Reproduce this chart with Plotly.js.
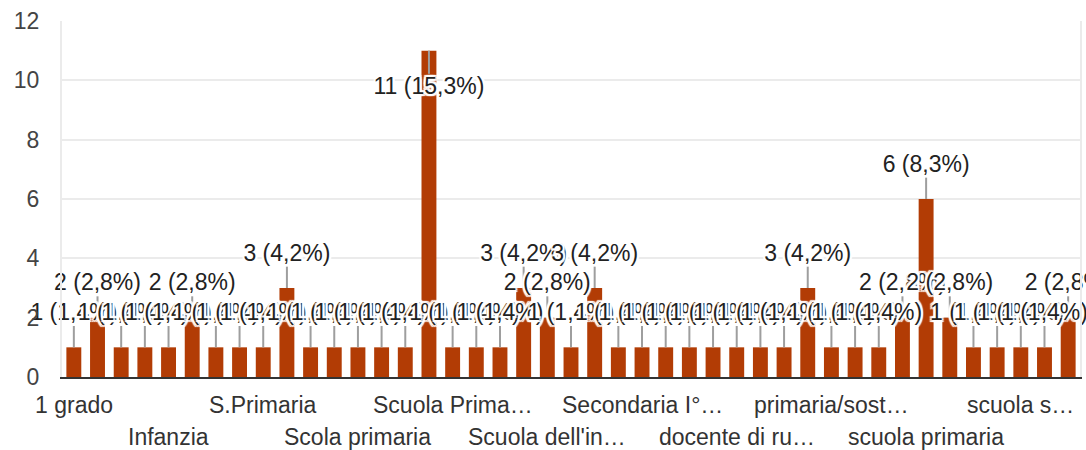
<!DOCTYPE html>
<html>
<head>
<meta charset="utf-8">
<script src="https://cdn.plot.ly/plotly-3.0.1.min.js"></script>
<style>
  html, body { margin: 0; padding: 0; background: #fff; }
  #chart { width: 1086px; height: 450px; }
</style>
</head>
<body>
<div id="chart"></div>
<script>
// ---- data ----
const categories = [
  "1 grado", "1° grado", "Docente", "I grado", "Infanzia",
  "Insegnante", "Primaria", "Primaria statale", "S.Primaria", "SECONDARIA",
  "Scuola", "Scola infanzia", "Scola primaria", "Scuola Infanzia", "Scuola Media",
  "Scuola Primaria", "Scuola Primaria statale", "Scuola Secondaria", "Scuola d'infanzia", "Scuola dell'infanzia",
  "Scuola dell'infanzia statale", "Scuola media", "Secondaria", "Secondaria I grado", "Secondaria I° grado",
  "Secondaria di primo grado", "Sostegno", "docente", "docente di ruolo", "docente di ruolo scuola primaria",
  "infanzia", "primaria", "primaria/sostegno", "primaria/sostegno infanzia", "scuola",
  "scuola infanzia", "scuola primaria", "scuola primaria statale", "scuola secondaria", "scuola secondaria di I grado",
  "scuola secondaria di primo grado", "secondaria", "sostegno"
];
const counts = [
  1, 2, 1, 1, 1,
  2, 1, 1, 1, 3,
  1, 1, 1, 1, 1,
  11, 1, 1, 1, 3,
  2, 1, 3, 1, 1,
  1, 1, 1, 1, 1,
  1, 3, 1, 1, 1,
  2, 6, 2, 1, 1,
  1, 1, 2
];
const tickLabels = [
  "1 grado", "Infanzia", "S.Primaria", "Scola primaria", "Scuola Prima…",
  "Scuola dell'in…", "Secondaria I°…", "docente di ru…", "primaria/sost…", "scuola primaria",
  "scuola s…"
];
const yTicks = [0, 2, 4, 6, 8, 10, 12];

// ---- derived ----
const total = counts.reduce((a, b) => a + b, 0);
const labelText = counts.map(v => v + " (" + (v / total * 100).toFixed(1).replace(".", ",") + "%)");
const yMax = 12;
const LABEL_OFF = 1.11;   // label offset above bar top (axis units)
const LEAD = 0.72;        // leader line length
const inside = counts.map(v => v + LABEL_OFF + 0.35 > yMax);
const labelY = counts.map((v, i) => inside[i] ? v - 1.28 : v + LABEL_OFF);

const leadX = [], leadY = [];
categories.forEach((c, i) => {
  const v = counts[i];
  leadX.push(c, c, null);
  leadY.push(v, inside[i] ? v - 0.78 : v + LEAD, null);
});

const FONT = "Liberation Sans, Arial, sans-serif";
const halo = "2px 0 1px #fff, -2px 0 1px #fff, 0 2px 1px #fff, 0 -2px 1px #fff, 2px 2px 1px #fff, -2px -2px 1px #fff, 2px -2px 1px #fff, -2px 2px 1px #fff";
const FS = 23;

const traces = [
  {
    type: "bar",
    x: categories,
    y: counts,
    marker: { color: "#b23c05" },
    hoverinfo: "none"
  },
  {
    type: "scatter",
    mode: "lines",
    x: leadX,
    y: leadY,
    line: { color: "#9e9e9e", width: 2 },
    hoverinfo: "none",
    connectgaps: false
  },
  {
    type: "scatter",
    mode: "text",
    x: categories,
    y: labelY,
    text: labelText,
    textposition: "middle center",
    textfont: { family: FONT, size: FS, color: "#222", shadow: halo },
    cliponaxis: false,
    hoverinfo: "none"
  }
];

const tickPositions = categories.filter((c, i) => i % 4 === 0);
const annotations = tickLabels.map((t, k) => ({
  text: t,
  x: tickPositions[k],
  xref: "x",
  y: 0,
  yref: "paper",
  yanchor: "middle",
  yshift: k % 2 === 0 ? -28 : -60,
  showarrow: false,
  font: { family: FONT, size: FS, color: "#333" }
}));

const layout = {
  width: 1086,
  height: 450,
  margin: { l: 62, r: 6, t: 21, b: 73 },
  paper_bgcolor: "#fff",
  plot_bgcolor: "#fff",
  showlegend: false,
  bargap: 0.37,
  font: { family: FONT, size: FS, color: "#444" },
  xaxis: {
    type: "category",
    range: [-0.5, categories.length - 0.5],
    showticklabels: false,
    ticks: "",
    showgrid: false,
    showline: true,
    linecolor: "#333",
    linewidth: 2,
    zeroline: false,
    fixedrange: true
  },
  yaxis: {
    range: [0, yMax],
    tickvals: yTicks,
    ticktext: yTicks.map(String),
    tickfont: { family: FONT, size: FS, color: "#444" },
    ticks: "",
    ticklabelstandoff: 16,
    showgrid: true,
    gridcolor: "#ebebeb",
    gridwidth: 2,
    zeroline: false,
    showline: true,
    mirror: true,
    linecolor: "#ebebeb",
    linewidth: 2,
    fixedrange: true
  },
  annotations: annotations
};

Plotly.newPlot("chart", traces, layout, { staticPlot: true, displayModeBar: false });
</script>
</body>
</html>
